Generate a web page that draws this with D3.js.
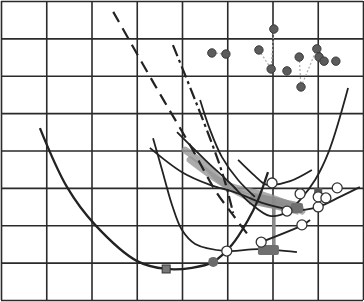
<!DOCTYPE html>
<html>
<head>
<meta charset="utf-8">
<script src="https://cdn.jsdelivr.net/npm/d3@7"></script>
<style>
  body { margin: 0; background: #fff; }
  svg { display: block; }
</style>
</head>
<body>
<svg id="chart" width="364" height="302"></svg>
<script>
// Grid ticks (8 x 8 cells, no labels)
const xTicks = [0, 1, 2, 3, 4, 5, 6, 7, 8];
const yTicks = [0, 1, 2, 3, 4, 5, 6, 7, 8];

// Solid U-shaped curves
const curveBig = [[0.86,4.60],[1.46,3.02],[2.08,2.01],[3.01,1.04],[3.65,0.83],[4.22,0.86],[4.69,1.02],[5.10,1.47],[5.46,2.14],[5.68,2.68],[5.90,3.42]];
const curveA = [[3.36,4.33],[3.56,3.48],[3.78,2.54],[4.00,1.87],[4.29,1.50],[4.99,1.31],[5.68,1.36],[6.54,1.28]];
const curveB = [[3.89,4.49],[4.51,3.75],[5.06,3.13],[5.50,2.60],[5.94,2.25],[6.32,2.35],[6.61,2.68],[6.94,3.21],[7.25,3.99],[7.67,5.67]];
const curveC = [[5.24,3.75],[5.61,3.32],[5.83,3.10],[5.99,3.08],[6.39,3.18],[6.87,3.48]];
const curveD = [[4.40,5.35],[4.62,4.55],[4.88,3.83],[5.24,3.21],[5.61,2.76]];
const curveE = [[3.29,4.07],[4.00,3.42],[4.62,3.08],[5.22,2.86],[5.77,2.60],[6.39,2.41]];
const curveF = [[5.75,1.55],[6.67,2.01],[6.83,2.14]];
const curveG = [[6.32,2.35],[7.01,2.49],[7.49,2.76],[7.93,3.02]];

// Dashed curves
const dashLong = [[2.48,7.71],[3.40,5.75],[4.24,4.01],[4.73,2.94],[5.13,2.27],[5.46,1.74]];
const dashDot = [[3.80,6.82],[4.29,5.35],[4.77,3.83],[4.97,3.08],[5.13,2.33]];

// Gray path of minima
const bandA = [[4.07,4.01],[4.51,3.61],[4.95,3.10],[5.70,2.84],[6.39,2.54],[6.65,2.38]];
const bandB = [[4.18,3.75],[4.73,3.26],[5.28,2.86],[5.83,2.60],[6.61,2.46]];
const bandWide = [[5.50,2.72],[6.10,2.58],[6.60,2.44]];
const bandC = [[6.03,2.73],[6.03,1.39]];
const graySquares = [[6.54,2.46],[5.81,1.34],[6.01,1.34]];
const darkSquares = [[7.01,2.89]];

// Markers
const openCircles = [[5.99,3.13],[6.61,2.84],[6.32,2.38],[7.01,2.49],[7.01,2.76],[7.18,2.73],[7.43,3.00],[6.65,2.01],[5.75,1.55],[4.99,1.31]];
const filledCircles = [[4.69,1.02]];
const minSquares = [[3.65,0.83]];

// Cluster of dots at the top
const topDots = [[4.66,6.61],[4.97,6.58],[5.70,6.69],[6.03,7.25],[5.97,6.18],[6.32,6.13],[6.59,6.50],[6.63,5.70],[6.98,6.72],[7.03,6.50],[7.14,6.39],[7.40,6.39]];
const dotLinks = [[0,1],[2,4],[3,4],[6,7],[7,8]];
const dotLinksDark = [[8,10]];

const margin = { top: 1, right: 1, bottom: 2, left: 1 };
const width = 364 - margin.left - margin.right;
const height = 302 - margin.top - margin.bottom;

const svg = d3.select("#chart");
const g = svg.append("g").attr("transform", `translate(${margin.left},${margin.top})`);

const x = d3.scaleLinear().domain([0, 8]).range([0, width]);
const y = d3.scaleLinear().domain([0, 8]).range([height, 0]);

// Grid
g.append("g")
  .attr("transform", `translate(0,${height})`)
  .call(d3.axisBottom(x).tickValues(xTicks).tickSize(height).tickFormat(""))
  .call(a => a.select(".domain").remove())
  .call(a => a.selectAll("line").attr("stroke", "#2a2a2a").attr("stroke-width", 1.6).attr("transform", `translate(0,${-height})`));

g.append("g")
  .call(d3.axisLeft(y).tickValues(yTicks).tickSize(-width).tickFormat(""))
  .call(a => a.select(".domain").remove())
  .call(a => a.selectAll("line").attr("stroke", "#2a2a2a").attr("stroke-width", 1.6));

const line = d3.line()
  .x(d => x(d[0]))
  .y(d => y(d[1]))
  .curve(d3.curveCatmullRom.alpha(0.5));

// Gray band
[bandA, bandB].forEach(b => {
  g.append("path").datum(b).attr("d", line)
    .attr("fill", "none").attr("stroke", "#969696").attr("stroke-width", 7)
    .attr("stroke-linecap", "round").attr("opacity", 0.8);
});
g.append("path").datum(bandWide).attr("d", line)
  .attr("fill", "none").attr("stroke", "#8a8a8a").attr("stroke-width", 12)
  .attr("opacity", 0.8);
g.append("path").datum(bandC).attr("d", d3.line().x(d => x(d[0])).y(d => y(d[1])))
  .attr("fill", "none").attr("stroke", "#8a8a8a").attr("stroke-width", 3.5);

// Solid curves
[curveBig, curveA, curveB, curveC, curveD, curveE, curveF, curveG].forEach((c, i) => {
  g.append("path").datum(c).attr("d", line)
    .attr("fill", "none").attr("stroke", "#222")
    .attr("stroke-width", i === 0 ? 2.3 : 1.8);
});

// Dashed curves
g.append("path").datum(dashLong).attr("d", line)
  .attr("fill", "none").attr("stroke", "#222").attr("stroke-width", 2.2)
  .attr("stroke-dasharray", "12,7");
g.append("path").datum(dashDot).attr("d", line)
  .attr("fill", "none").attr("stroke", "#222").attr("stroke-width", 2.2)
  .attr("stroke-dasharray", "12,4,3,4");

// Squares
g.selectAll(".gsq").data(graySquares).join("rect")
  .attr("x", d => x(d[0]) - 6).attr("y", d => y(d[1]) - 5)
  .attr("width", 12).attr("height", 10).attr("rx", 2)
  .attr("fill", "#6f6f6f");
g.selectAll(".dsq").data(darkSquares).join("rect")
  .attr("x", d => x(d[0]) - 4).attr("y", d => y(d[1]) - 4)
  .attr("width", 8).attr("height", 8)
  .attr("fill", "#555");
g.selectAll(".msq").data(minSquares).join("rect")
  .attr("x", d => x(d[0]) - 4).attr("y", d => y(d[1]) - 4)
  .attr("width", 8).attr("height", 8)
  .attr("fill", "#777").attr("stroke", "#333").attr("stroke-width", 1);

// Circles
g.selectAll(".fc").data(filledCircles).join("circle")
  .attr("cx", d => x(d[0])).attr("cy", d => y(d[1])).attr("r", 5)
  .attr("fill", "#6a6a6a");
g.selectAll(".oc").data(openCircles).join("circle")
  .attr("cx", d => x(d[0])).attr("cy", d => y(d[1])).attr("r", 5)
  .attr("fill", "#fff").attr("stroke", "#333").attr("stroke-width", 1.3);

// Top dot cluster
g.selectAll(".lk").data(dotLinks).join("line")
  .attr("x1", d => x(topDots[d[0]][0])).attr("y1", d => y(topDots[d[0]][1]))
  .attr("x2", d => x(topDots[d[1]][0])).attr("y2", d => y(topDots[d[1]][1]))
  .attr("stroke", "#aaa").attr("stroke-width", 1.2).attr("stroke-dasharray", "2,2");
g.selectAll(".lkd").data(dotLinksDark).join("line")
  .attr("x1", d => x(topDots[d[0]][0])).attr("y1", d => y(topDots[d[0]][1]))
  .attr("x2", d => x(topDots[d[1]][0])).attr("y2", d => y(topDots[d[1]][1]))
  .attr("stroke", "#444").attr("stroke-width", 3);
g.selectAll(".td").data(topDots).join("circle")
  .attr("cx", d => x(d[0])).attr("cy", d => y(d[1])).attr("r", 4.2)
  .attr("fill", "#5c5c5c").attr("stroke", "#3a3a3a").attr("stroke-width", 1);
</script>
</body>
</html>
